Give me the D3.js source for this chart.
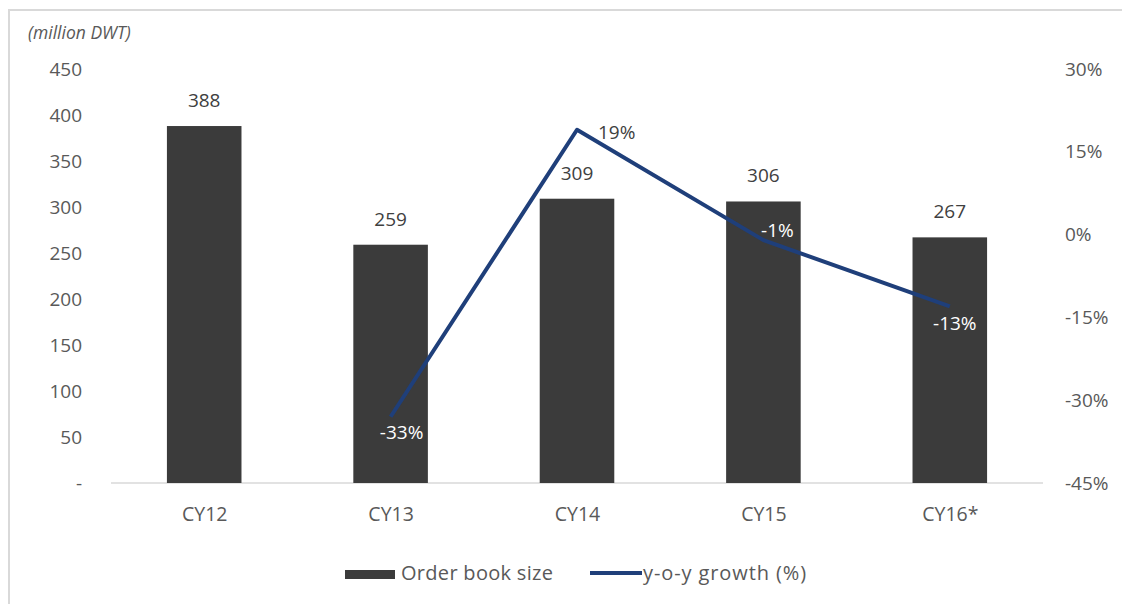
<!DOCTYPE html>
<html>
<head>
<meta charset="utf-8">
<script src="https://cdn.jsdelivr.net/npm/d3@7"></script>
<style>
  html, body { margin: 0; padding: 0; background: #fff; }
  svg { display: block; font-family: "Open Sans", sans-serif; }
</style>
</head>
<body>
<svg id="chart" width="1122" height="604"></svg>
<script>
// Order book size (million DWT) and its year-on-year growth
const categories = ["CY12", "CY13", "CY14", "CY15", "CY16*"];
const orderBook = [388, 259, 309, 306, 267];
const growth = [null, -33, 19, -1, -13];
const leftTicks = [0, 50, 100, 150, 200, 250, 300, 350, 400, 450];
const rightTicks = [-45, -30, -15, 0, 15, 30];

const svg = d3.select("#chart");
const W = 1122, H = 604;
const plot = { left: 111, right: 1043, top: 69, bottom: 483 };

const barColor = "#3b3b3b";
const lineColor = "#1f3f7a";
const tickColor = "#595959";
const labelColor = "#404040";

// frame
svg.append("line").attr("x1", 8).attr("x2", W).attr("y1", 10).attr("y2", 10)
  .attr("stroke", "#d9d9d9").attr("stroke-width", 2);
svg.append("line").attr("x1", 9).attr("x2", 9).attr("y1", 10).attr("y2", H)
  .attr("stroke", "#d9d9d9").attr("stroke-width", 2);

const x = d3.scalePoint().domain(categories).range([plot.left, plot.right]).padding(0.5);
const barW = x.step() * 0.4;
const yL = d3.scaleLinear().domain([0, 450]).range([plot.bottom, plot.top]);
const yR = d3.scaleLinear().domain([-45, 30]).range([plot.bottom, plot.top]);

// left axis
const gL = svg.append("g").attr("transform", `translate(${plot.left},0)`)
  .call(d3.axisLeft(yL).tickValues(leftTicks).tickSize(0).tickPadding(29)
    .tickFormat(d => d === 0 ? "-" : d));
gL.select(".domain").remove();
gL.selectAll("text").attr("font-size", 19).attr("fill", tickColor)
  .attr("font-family", "Open Sans, sans-serif");

// right axis
const gR = svg.append("g").attr("transform", `translate(${plot.right},0)`)
  .call(d3.axisRight(yR).tickValues(rightTicks).tickSize(0).tickPadding(22)
    .tickFormat(d => d + "%"));
gR.select(".domain").remove();
gR.selectAll("text").attr("font-size", 19).attr("fill", tickColor)
  .attr("font-family", "Open Sans, sans-serif");

// category axis
const gX = svg.append("g").attr("transform", `translate(0,${plot.bottom})`)
  .call(d3.axisBottom(x).tickSize(0).tickPadding(24));
gX.select(".domain").attr("stroke", "#d9d9d9").attr("stroke-width", 1.5)
  .attr("d", `M${plot.left},0H${plot.right}`);
gX.selectAll("text").attr("font-size", 19.5).attr("fill", tickColor)
  .attr("font-family", "Open Sans, sans-serif");

// unit label
svg.append("text").attr("x", 28).attr("y", 39)
  .attr("font-size", 17.5).attr("font-style", "italic").attr("fill", tickColor)
  .text("(million DWT)");

// bars
const rows = categories.map((c, i) => ({ c, v: orderBook[i], g: growth[i] }));
svg.append("g").selectAll("rect").data(rows).join("rect")
  .attr("x", d => x(d.c) - barW / 2)
  .attr("y", d => yL(d.v))
  .attr("width", barW)
  .attr("height", d => yL(0) - yL(d.v))
  .attr("fill", barColor);

svg.append("g").selectAll("text").data(rows).join("text")
  .attr("x", d => x(d.c))
  .attr("y", d => yL(d.v) - 19)
  .attr("text-anchor", "middle")
  .attr("font-size", 19).attr("fill", labelColor)
  .text(d => d.v);

// growth line
const pts = rows.filter(d => d.g !== null);
svg.append("path").datum(pts)
  .attr("fill", "none").attr("stroke", lineColor).attr("stroke-width", 4)
  .attr("stroke-linejoin", "round")
  .attr("d", d3.line().x(d => x(d.c)).y(d => yR(d.g)));

// growth labels: offset from the point and colour depending on what lies behind
const growthLabelPlacement = {
  "CY13":  { dx: 11, dy: 22, anchor: "middle", fill: "#ffffff" },
  "CY14":  { dx: 21, dy: 9,  anchor: "start",  fill: labelColor },
  "CY15":  { dx: 14, dy: -3, anchor: "middle", fill: "#ffffff" },
  "CY16*": { dx: 5,  dy: 24, anchor: "middle", fill: "#ffffff" }
};
svg.append("g").selectAll("text").data(pts).join("text")
  .attr("x", d => x(d.c) + growthLabelPlacement[d.c].dx)
  .attr("y", d => yR(d.g) + growthLabelPlacement[d.c].dy)
  .attr("text-anchor", d => growthLabelPlacement[d.c].anchor)
  .attr("fill", d => growthLabelPlacement[d.c].fill)
  .attr("font-size", 19)
  .text(d => d.g + "%");

// legend
const lg = svg.append("g");
lg.append("rect").attr("x", 345).attr("y", 570).attr("width", 50).attr("height", 9)
  .attr("fill", barColor);
lg.append("text").attr("x", 401).attr("y", 580).attr("font-size", 20)
  .attr("letter-spacing", 0.3).attr("fill", tickColor).text("Order book size");
lg.append("line").attr("x1", 590).attr("x2", 642).attr("y1", 573).attr("y2", 573)
  .attr("stroke", lineColor).attr("stroke-width", 4);
lg.append("text").attr("x", 643).attr("y", 580).attr("font-size", 20)
  .attr("letter-spacing", 0.9).attr("fill", tickColor).text("y-o-y growth (%)");
</script>
</body>
</html>
